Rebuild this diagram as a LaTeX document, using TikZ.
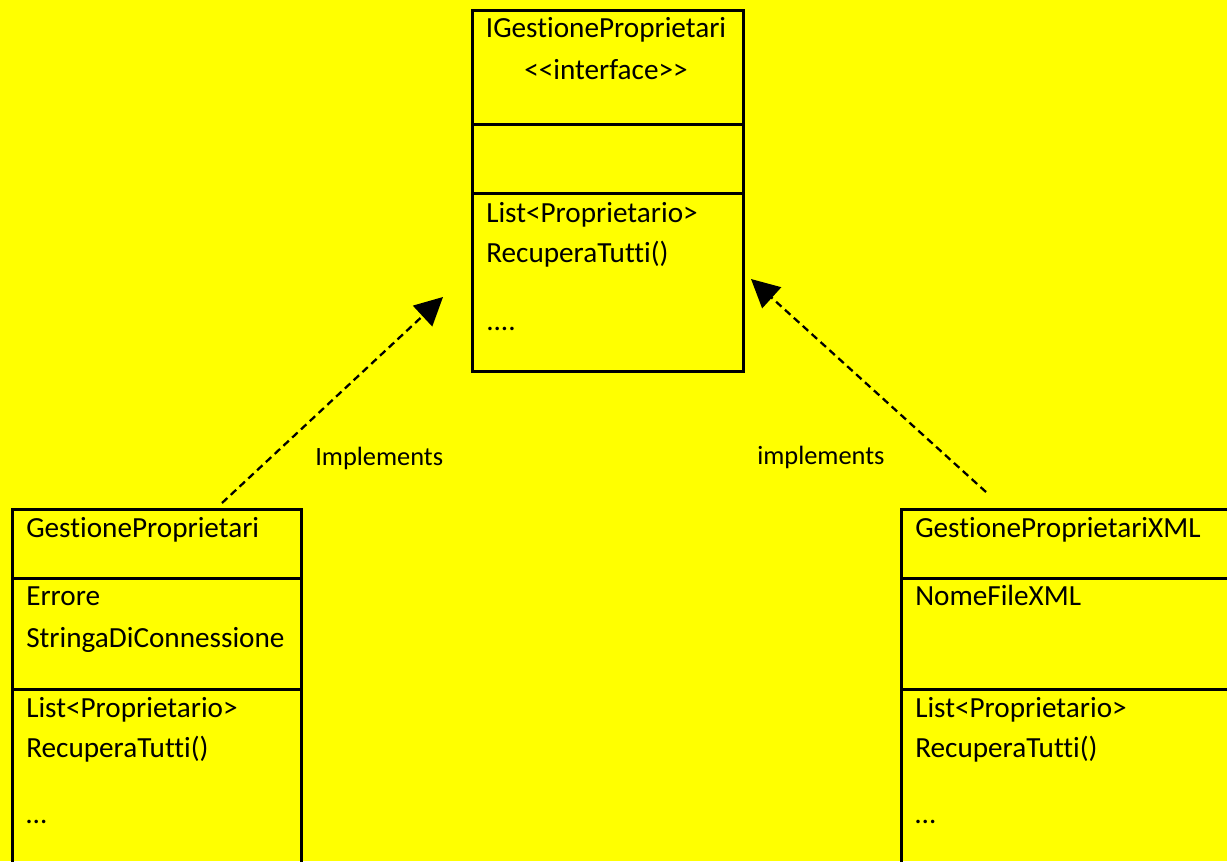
\documentclass[tikz,border=0pt]{standalone}
\usepackage{fontspec}
\setmainfont{Carlito}[Ligatures=NoCommon]
\usetikzlibrary{arrows.meta}
\definecolor{bgyellow}{HTML}{FFFF00}
\begin{document}
\begin{tikzpicture}[x=0.75pt,y=-0.75pt,
  comp/.style={draw=black,line width=2.1pt,fill=none,inner sep=0pt,anchor=north west},
  txt/.style={inner sep=0pt,anchor=base west,font=\fontsize{21.9}{26}\selectfont},
  ctxt/.style={inner sep=0pt,anchor=base,font=\fontsize{21.9}{26}\selectfont},
  lbl/.style={inner sep=0pt,anchor=base west,font=\fontsize{19.8}{24}\selectfont},
  impl/.style={draw=black,line width=1.7pt,dash pattern=on 5.5pt off 3.5pt,
    -{Triangle[length=21pt,width=21pt]}}]
\fill[bgyellow] (0,0) rectangle (1227,861);
\useasboundingbox (0,0) rectangle (1227,861);
\clip (0,0) rectangle (1227,861);
% interface box
\node[comp,minimum width=203.25pt,minimum height=85.5pt] (ihead) at (471,9) {};
\node[comp,minimum width=203.25pt,minimum height=51.75pt] (iattr) at (471,123) {};
\node[comp,minimum width=203.25pt,minimum height=133.5pt] (imeth) at (471,192) {};
\node[ctxt] (iname) at (606,37) {IGestioneProprietari};
\node[ctxt] (istereo) at (606,79) {<{}<interface>{}>};
\node[txt] (im1) at (486,222) {List<Proprietario>};
\node[txt] (im2) at (486,262) {RecuperaTutti()};
\node[txt] (im3) at (486,330) {....};
% left class
\node[comp,minimum width=216.75pt,minimum height=51.75pt] (lhead) at (11,508) {};
\node[comp,minimum width=216.75pt,minimum height=83.25pt] (lattr) at (11,577) {};
\node[comp,minimum width=216.75pt,minimum height=150pt] (lmeth) at (11,688) {};
\node[txt] (lname) at (26,537) {GestioneProprietari};
\node[txt] (la1) at (26,605) {Errore};
\node[txt] (la2) at (26,647) {StringaDiConnessione};
\node[txt] (lm1) at (26,717) {List<Proprietario>};
\node[txt] (lm2) at (26,757) {RecuperaTutti()};
\node[txt] (lm3) at (26,823) {…};
% right class
\node[comp,minimum width=262pt,minimum height=51.75pt] (rhead) at (900,508) {};
\node[comp,minimum width=262pt,minimum height=83.25pt] (rattr) at (900,577) {};
\node[comp,minimum width=262pt,minimum height=150pt] (rmeth) at (900,688) {};
\node[txt] (rname) at (915,537) {GestioneProprietariXML};
\node[txt] (ra1) at (915,605) {NomeFileXML};
\node[txt] (rm1) at (915,717) {List<Proprietario>};
\node[txt] (rm2) at (915,757) {RecuperaTutti()};
\node[txt] (rm3) at (915,823) {…};
% connectors
\coordinate (lstart) at (222,503);
\coordinate (ltip) at (443,297);
\coordinate (rstart) at (986,492);
\coordinate (rtip) at (751,279);
\draw[impl] (lstart) -- (ltip);
\draw[impl] (rstart) -- (rtip);
\node[lbl] (limpl) at (315,465) {Implements};
\node[lbl] (rimpl) at (757,464) {implements};
\end{tikzpicture}
\end{document}
